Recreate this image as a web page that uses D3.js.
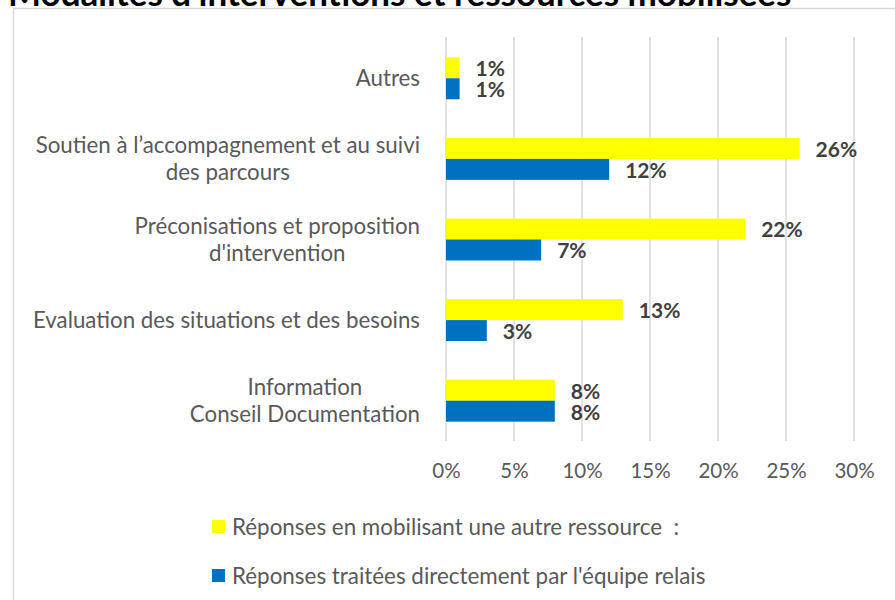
<!DOCTYPE html>
<html>
<head>
<meta charset="utf-8">
<script src="https://cdn.jsdelivr.net/npm/d3@7"></script>
<style>
  body { margin: 0; background: #fff; }
  svg { display: block; }
</style>
</head>
<body>
<div id="chart"></div>
<script>
// categories from top to bottom, each split in its display lines
var categories = ["Autres", "Soutien", "Préconisations", "Evaluation", "Information"];
var categoryLines = [
    ["Autres"],
    ["Soutien à l’accompagnement et au suivi", "des parcours"],
    ["Préconisations et proposition", "d'intervention"],
    ["Evaluation des situations et des besoins"],
    ["Information", "Conseil Documentation"]
];
var seriesNames = ["Réponses en mobilisant une autre ressource  :", "Réponses traitées directement par l'équipe relais"];
var autreRessource = [1, 26, 22, 13, 8];
var equipeRelais = [1, 12, 7, 3, 8];
var xTicks = [0, 5, 10, 15, 20, 25, 30];

var width = 895;
var height = 600;
var font = "Lato, 'Open Sans', sans-serif";

var svg = d3.select("#chart").append("svg")
    .attr("width", width)
    .attr("height", height);

svg.append("rect")
    .attr("width", width).attr("height", height)
    .attr("fill", "#fff");

// chart frame (runs off the right and bottom edges)
svg.append("rect")
    .attr("x", 13.5).attr("y", 8.5)
    .attr("width", width).attr("height", height)
    .attr("fill", "none")
    .attr("stroke", "#d9d9d9")
    .attr("stroke-width", 1.5);

// title, cut off at the top
svg.append("text")
    .attr("x", 8).attr("y", 6)
    .attr("font-family", font)
    .attr("font-weight", "bold")
    .attr("font-size", 35)
    .attr("fill", "#000")
    .text("Modalités d'interventions et ressources mobilisées");

var x = d3.scaleLinear().domain([0, 30]).range([446, 854]);

var y = d3.scaleBand()
    .domain(categories)
    .range([38, 441])
    .paddingInner(0.48)
    .paddingOuter(0.24);

var ySeries = d3.scaleBand()
    .domain(["autre", "relais"])
    .range([0, y.bandwidth()]);

var colors = { autre: "#FFFF00", relais: "#0070C0" };

// grid lines
svg.append("g").selectAll("line")
    .data(xTicks)
    .join("line")
    .attr("x1", function (d) { return x(d); })
    .attr("x2", function (d) { return x(d); })
    .attr("y1", 37).attr("y2", 441)
    .attr("stroke", "#d9d9d9")
    .attr("stroke-width", 1.5);

// x axis labels
var xAxis = d3.axisBottom(x)
    .tickValues(xTicks)
    .tickSize(0)
    .tickPadding(0)
    .tickFormat(function (d) { return d + "%"; });

var gx = svg.append("g")
    .attr("transform", "translate(0,471)")
    .call(xAxis);
gx.select(".domain").remove();
gx.selectAll("text")
    .attr("dy", "0.35em")
    .attr("font-family", font)
    .attr("font-size", 20.5)
    .attr("fill", "#595959");

// bars
var rows = categories.map(function (c, i) {
    return { cat: c, autre: autreRessource[i], relais: equipeRelais[i] };
});

var groups = svg.append("g").selectAll("g")
    .data(rows)
    .join("g")
    .attr("transform", function (d) { return "translate(0," + y(d.cat) + ")"; });

groups.selectAll("rect")
    .data(function (d) { return [{ key: "autre", v: d.autre }, { key: "relais", v: d.relais }]; })
    .join("rect")
    .attr("x", x(0))
    .attr("y", function (d) { return ySeries(d.key); })
    .attr("width", function (d) { return x(d.v) - x(0); })
    .attr("height", ySeries.bandwidth())
    .attr("fill", function (d) { return colors[d.key]; });

groups.selectAll("text.val")
    .data(function (d) { return [{ key: "autre", v: d.autre }, { key: "relais", v: d.relais }]; })
    .join("text")
    .attr("class", "val")
    .attr("x", function (d) { return x(d.v) + 16; })
    .attr("y", function (d) { return ySeries(d.key) + ySeries.bandwidth() / 2 + 1; })
    .attr("dy", "0.35em")
    .attr("font-family", font)
    .attr("font-weight", "bold")
    .attr("font-size", 21)
    .attr("fill", "#404040")
    .text(function (d) { return d.v + "%"; });

// category labels: each block right aligned, lines centred within it
var labelRight = 420;
var lineH = 27;
categories.forEach(function (c, i) {
    var lines = categoryLines[i];
    var t = svg.append("g");
    var texts = lines.map(function (l, j) {
        return t.append("text")
            .attr("y", y(c) + y.bandwidth() / 2 + (j - (lines.length - 1) / 2) * lineH)
            .attr("dy", "0.35em")
            .attr("text-anchor", "middle")
            .attr("font-family", font)
            .attr("font-size", 22.3)
            .attr("fill", "#595959")
            .text(l);
    });
    var maxW = d3.max(texts, function (s) { return s.node().getComputedTextLength(); });
    texts.forEach(function (s) { s.attr("x", labelRight - maxW / 2); });
});

// legend
var legend = svg.append("g").selectAll("g")
    .data(["autre", "relais"])
    .join("g")
    .attr("transform", function (d, i) { return "translate(212," + (527 + i * 49) + ")"; });

legend.append("rect")
    .attr("x", 0).attr("y", -7)
    .attr("width", 13).attr("height", 13)
    .attr("fill", function (d) { return colors[d]; });

legend.append("text")
    .attr("x", 20).attr("y", 0)
    .attr("dy", "0.35em")
    .attr("font-family", font)
    .attr("font-size", 22.4)
    .attr("fill", "#595959")
    .attr("xml:space", "preserve")
    .style("white-space", "pre")
    .text(function (d, i) { return seriesNames[i]; });
</script>
</body>
</html>
